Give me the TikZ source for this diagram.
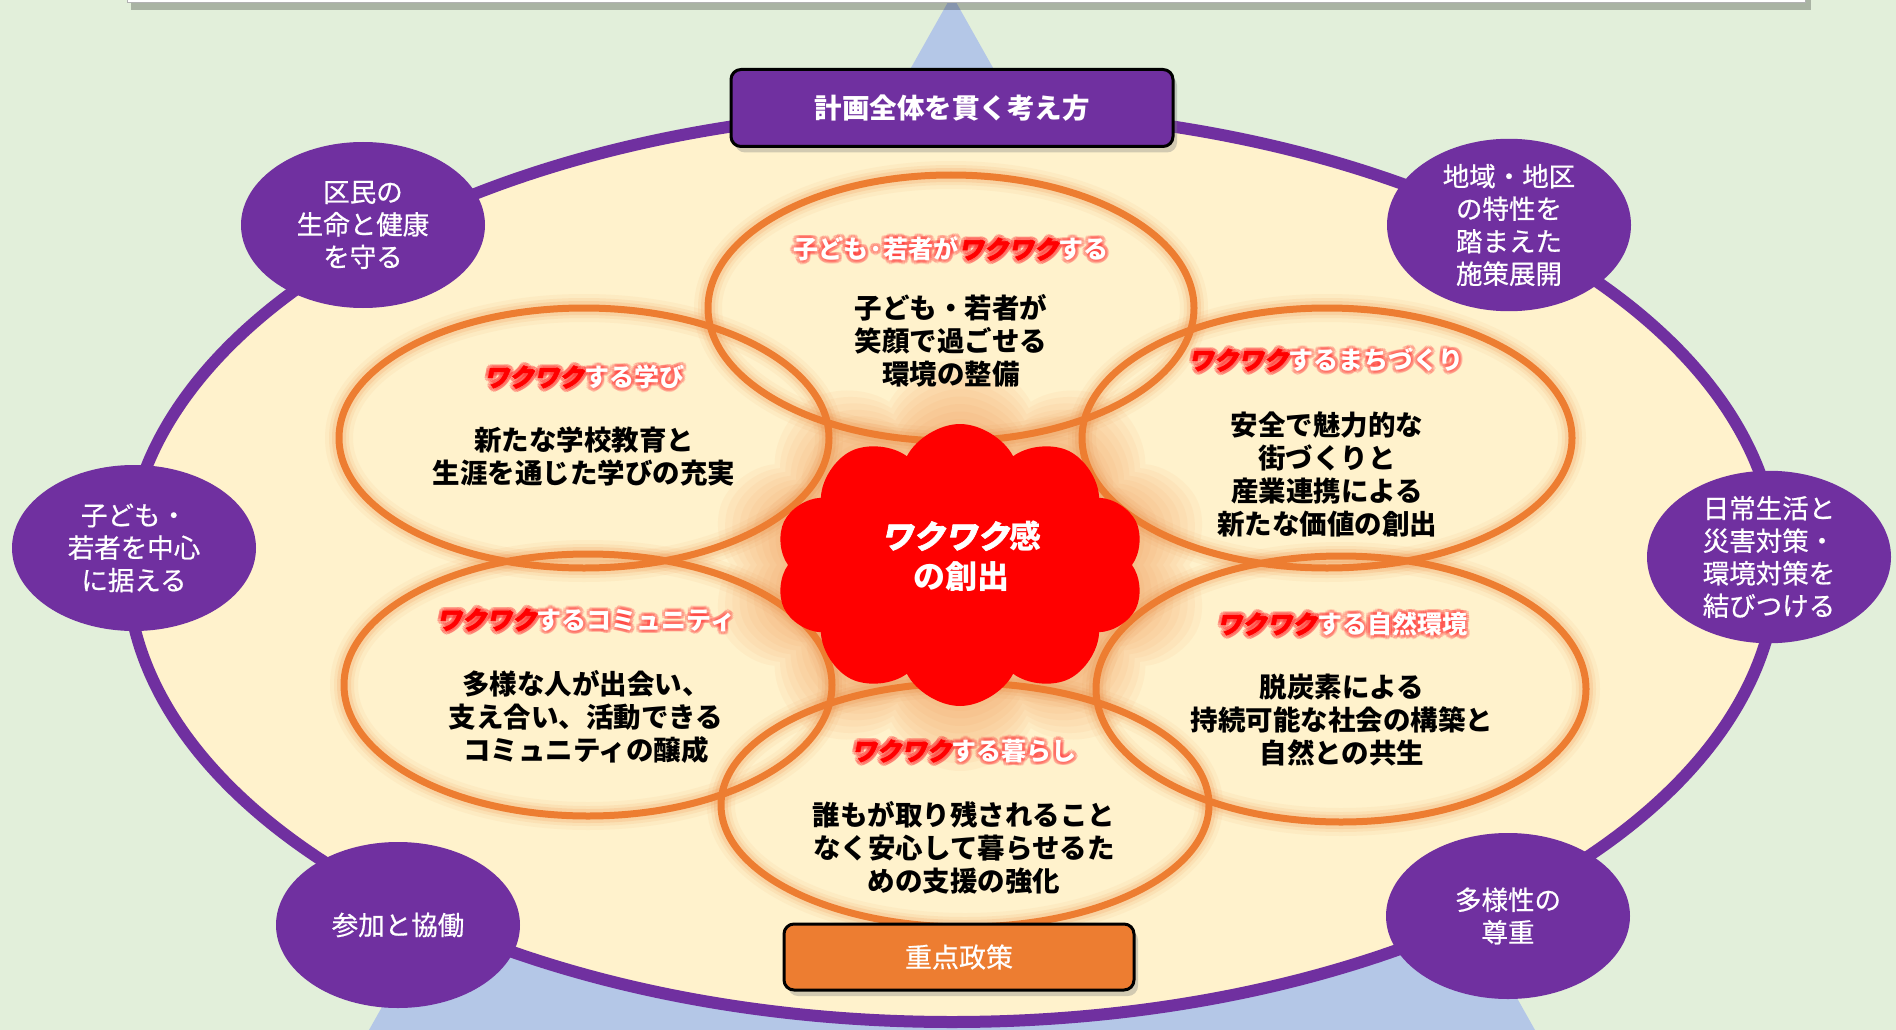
\documentclass[tikz,border=0pt]{standalone}
\usepackage{fontspec}
\setmainfont{Noto Sans CJK JP}
\newfontfamily\wkfont[FakeSlant=0.2,FakeBold=2]{Noto Sans CJK JP}
\newfontfamily\medfont[FakeBold=0.6]{Noto Sans CJK JP}
\usetikzlibrary{shapes.geometric,shapes.symbols,calc,shadows}
\definecolor{bggreen}{HTML}{E2EFDA}
\definecolor{tri}{HTML}{B4C7E7}
\definecolor{cream}{HTML}{FFF2CC}
\definecolor{vio}{HTML}{7030A0}
\definecolor{orng}{HTML}{ED7D31}
\definecolor{gcol}{HTML}{FF3B3B}
\newcommand\wkc{red}
\newcommand\wk{{\color{\wkc}\wkfont\bfseries ワクワク}}
\tikzset{
  pcirc/.style={ellipse, fill=vio, text=white, minimum width=244pt, minimum height=166pt,
    inner sep=0pt, align=center, font=\medfont\fontsize{26.5}{32.5}\selectfont},
  oell/.style={ellipse, draw=orng, line width=7pt, inner sep=0pt},
  bodytxt/.style={align=center, font=\fontsize{27.5}{33}\selectfont\bfseries, text=black},
  ttl/.style={align=center, font=\fontsize{25}{29}\selectfont\bfseries, text=white},
  ttlglow/.style={ttl, text=gcol, opacity=0.22, execute at begin node={\renewcommand\wkc{gcol}}},
  cloudsh/.style={cloud, cloud puffs=10, cloud puff arc=125, cloud ignores aspect, inner sep=0pt},
  boxstyle/.style={rounded corners=10pt, draw=black, line width=3pt, text=white,
    drop shadow={opacity=0.35, shadow xshift=4pt, shadow yshift=-6pt}},
}
\newcommand\gtitle[4]{%
  \foreach \a in {0,30,...,330}{\node[ttlglow] (#1g\a) at ($(#2,#3)+(\a:3.5)$) {#4};}
  \node[ttl] (#1) at (#2,#3) {#4};}
\newcommand\eglow[4]{%
  \foreach \lw/\op in {28/0.06,20/0.09,14/0.14}{\draw[orng, line width=\lw pt, opacity=\op] (#1,#2) ellipse [x radius=#3, y radius=#4];}}
\begin{document}
\begin{tikzpicture}[x=1pt,y=-1pt]
\useasboundingbox (0,0) rectangle (1896,1030);
\fill[bggreen] (0,0) rectangle (1896,1030);
\fill[tri] (952,-5) -- (369,1030) -- (1535,1030) -- cycle;
% top white box
\fill[black, opacity=0.25] (131,-20) rectangle (1811,10);
\fill[white, draw=gray!60, line width=1pt] (127,-20) rectangle (1805,3);
% big frame
\node[ellipse, draw=vio, line width=12pt, fill=cream, minimum width=1650pt, minimum height=912pt, inner sep=0pt] (frame) at (952,566) {};
% glows
\eglow{951}{308}{243}{133}
\eglow{584}{438}{245}{130}
\eglow{1327}{438}{245}{130}
\eglow{588}{685}{244}{131}
\eglow{1341}{689}{245}{133}
\eglow{965}{805}{244}{122}
\foreach \s in {130,115,...,10}{
  \node[cloudsh, fill=orng, opacity=0.055, minimum width=370pt+\s pt, minimum height=282pt+\s pt] (cg\s) at (960,565) {};}
% orange ellipses
\node[oell, minimum width=486pt, minimum height=266pt] (eA) at (951,308) {};
\node[oell, minimum width=490pt, minimum height=260pt] (eB) at (584,438) {};
\node[oell, minimum width=490pt, minimum height=260pt] (eC) at (1327,438) {};
\node[oell, minimum width=488pt, minimum height=262pt] (eD) at (588,685) {};
\node[oell, minimum width=490pt, minimum height=266pt] (eE) at (1341,689) {};
\node[oell, minimum width=488pt, minimum height=244pt] (eF) at (965,805) {};
% cloud
\node[cloudsh, fill=red, minimum width=370pt, minimum height=282pt] (cloud) at (960,565) {};
\node[align=center, text=white, font=\fontsize{32}{40}\selectfont\bfseries,
  execute at begin node={\renewcommand\wkc{white}}] (ct) at (961,556) {\wk 感\\の創出};
% titles
\gtitle{tA}{951}{249}{子ども·若者が\wk する}
\gtitle{tB}{584}{377}{\wk する学び}
\gtitle{tC}{1326}{360}{\wk するまちづくり}
\gtitle{tD}{586}{620}{\wk するコミュニティ}
\gtitle{tE}{1342}{624}{\wk する自然環境}
\gtitle{tF}{964}{751}{\wk する暮らし}
% bodies
\node[bodytxt] (bA) at (951,341) {子ども・若者が\\笑顔で過ごせる\\環境の整備};
\node[bodytxt] (bB) at (584,457) {新たな学校教育と\\生涯を通じた学びの充実};
\node[bodytxt] (bC) at (1327,474) {安全で魅力的な\\街づくりと\\産業連携による\\新たな価値の創出};
\node[bodytxt] (bD) at (586,717) {多様な人が出会い、\\支え合い、活動できる\\コミュニティの醸成};
\node[bodytxt] (bE) at (1342,720) {脱炭素による\\持続可能な社会の構築と\\自然との共生};
\node[bodytxt] (bF) at (964,848) {誰もが取り残されること\\なく安心して暮らせるた\\めの支援の強化};
% purple circles
\node[pcirc] (c1) at (363,225) {区民の\\生命と健康\\を守る};
\node[pcirc] (c2) at (134,548) {子ども・\\若者を中心\\に据える};
\node[pcirc] (c3) at (1509,225) {地域・地区\\の特性を\\踏まえた\\施策展開};
\node[pcirc] (c4) at (1769,557) {日常生活と\\災害対策・\\環境対策を\\結びつける};
\node[pcirc] (c5) at (398,925) {参加と協働};
\node[pcirc] (c6) at (1508,916) {多様性の\\尊重};
% boxes
\node[boxstyle, fill=vio, minimum width=442pt, minimum height=77pt, font=\fontsize{27.5}{30}\selectfont\bfseries] (tb) at (952,108) {計画全体を貫く考え方};
\node[boxstyle, fill=orng, minimum width=350pt, minimum height=66pt, font=\medfont\fontsize{27}{30}\selectfont] (bb) at (959,957) {重点政策};
\end{tikzpicture}
\end{document}
